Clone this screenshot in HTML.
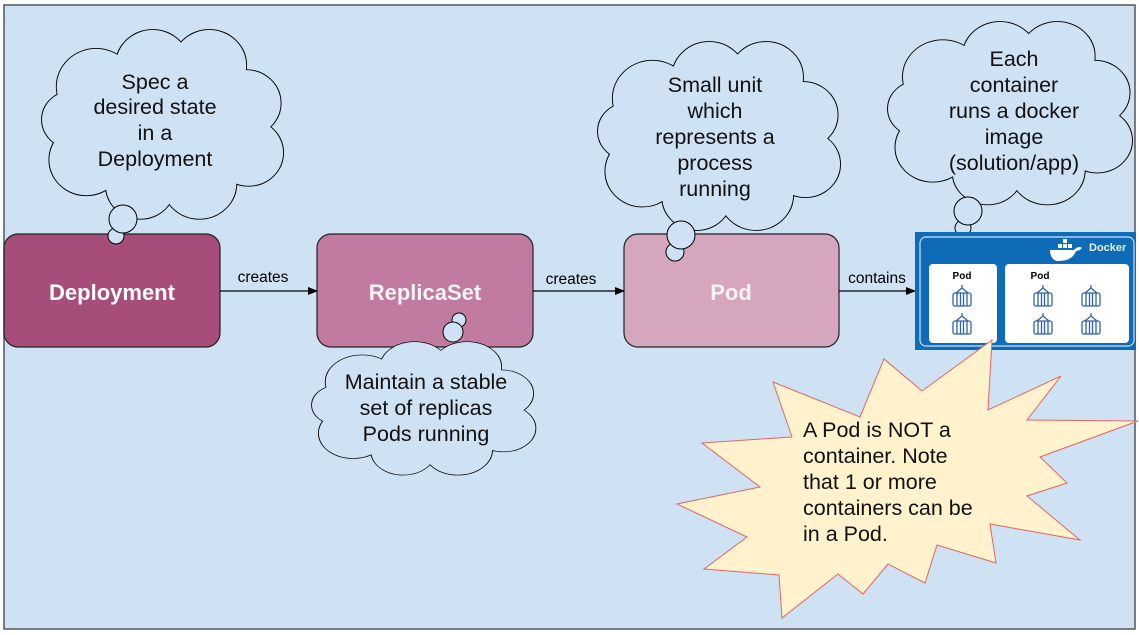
<!DOCTYPE html>
<html><head><meta charset="utf-8"><style>
html,body{margin:0;padding:0;background:#fff;}
svg{display:block;font-family:"Liberation Sans",Arial,sans-serif;}
</style></head><body>
<svg width="1139" height="635" viewBox="0 0 1139 635" xmlns="http://www.w3.org/2000/svg">
<defs>
<g id="cs">
<ellipse cx="50" cy="40" rx="38" ry="28"/>
<circle cx="22" cy="24" r="16"/><circle cx="45" cy="15" r="15"/><circle cx="68" cy="15" r="15"/>
<circle cx="83" cy="31" r="14"/><circle cx="84" cy="52" r="14"/><circle cx="64" cy="65" r="15"/>
<circle cx="40" cy="66" r="14"/><circle cx="18" cy="55" r="15"/><circle cx="12" cy="38" r="12"/>
</g>
<g id="cont" fill="none" stroke="#2f63a8" stroke-width="1.3">
<rect x="-9" y="-6" width="18" height="13" rx="2"/>
<line x1="-5" y1="-6" x2="-5" y2="7"/><line x1="-1.5" y1="-6" x2="-1.5" y2="7"/><line x1="1.5" y1="-6" x2="1.5" y2="7"/><line x1="5" y1="-6" x2="5" y2="7"/>
<path d="M-6 -6 L0 -11 L6 -6 M0 -11 V-14"/>
</g>
<marker id="ar" markerWidth="10" markerHeight="8" refX="9" refY="4" orient="auto" markerUnits="userSpaceOnUse"><path d="M0 0 L10 4 L0 8 Z" fill="#000"/></marker>
</defs>
<rect x="4" y="5" width="1131" height="624" fill="#cfe2f3" stroke="#555" stroke-width="1.5"/>

<g>
<use href="#cs" transform="translate(42,30) scale(2.46,2.36)" fill="none" stroke="#000" style="stroke-width:0.75"/>
<use href="#cs" transform="translate(42,30) scale(2.46,2.36)" fill="#cfe2f3"/>
<use href="#cs" transform="translate(598,42) scale(2.47,2.35)" fill="none" stroke="#000" style="stroke-width:0.75"/>
<use href="#cs" transform="translate(598,42) scale(2.47,2.35)" fill="#cfe2f3"/>
<use href="#cs" transform="translate(888,22) scale(2.49,2.28)" fill="none" stroke="#000" style="stroke-width:0.75"/>
<use href="#cs" transform="translate(888,22) scale(2.49,2.28)" fill="#cfe2f3"/>
</g>

<rect x="4" y="234" width="216" height="113" rx="14" fill="#a64d79" stroke="#222" stroke-width="1.2"/>
<rect x="317" y="234" width="216" height="113" rx="14" fill="#c27ba0" stroke="#222" stroke-width="1.2"/>
<rect x="624" y="234" width="215" height="113" rx="14" fill="#d5a6bd" stroke="#222" stroke-width="1.2"/>
<text x="112" y="300" text-anchor="middle" font-size="22" font-weight="bold" fill="#fff">Deployment</text>
<text x="425" y="300" text-anchor="middle" font-size="22" font-weight="bold" fill="#f3f3f3">ReplicaSet</text>
<text x="731" y="300" text-anchor="middle" font-size="22" font-weight="bold" fill="#f3f3f3">Pod</text>

<circle cx="116" cy="236" r="8" fill="#cfe2f3" stroke="#000"/>
<circle cx="123" cy="219" r="14" fill="#cfe2f3" stroke="#000"/>
<circle cx="675" cy="252" r="9" fill="#cfe2f3" stroke="#000"/>
<circle cx="681" cy="235" r="14" fill="#cfe2f3" stroke="#000"/>
<circle cx="963" cy="228" r="8" fill="#cfe2f3" stroke="#000"/>
<circle cx="968" cy="211" r="14" fill="#cfe2f3" stroke="#000"/>
<circle cx="459" cy="320" r="7" fill="#cfe2f3" stroke="#000"/>
<circle cx="453" cy="332" r="10" fill="#cfe2f3" stroke="#000"/>

<use href="#cs" transform="translate(312,342) scale(2.28,1.66)" fill="none" stroke="#000" style="stroke-width:0.75"/>
<use href="#cs" transform="translate(312,342) scale(2.28,1.66)" fill="#cfe2f3"/>

<line x1="220" y1="291" x2="317" y2="291" stroke="#000" stroke-width="1.2" marker-end="url(#ar)"/>
<line x1="533" y1="291" x2="624" y2="291" stroke="#000" stroke-width="1.2" marker-end="url(#ar)"/>
<line x1="839" y1="291" x2="915" y2="291" stroke="#000" stroke-width="1.2" marker-end="url(#ar)"/>
<text x="263" y="282" text-anchor="middle" font-size="15.5">creates</text>
<text x="571" y="284" text-anchor="middle" font-size="15.5">creates</text>
<text x="877" y="283" text-anchor="middle" font-size="15.5">contains</text>

<rect x="915" y="232" width="221" height="118" fill="#0e6bb8"/>
<rect x="920" y="237" width="214" height="109" rx="6" fill="none" stroke="#cfe2f3" stroke-width="1.2"/>
<rect x="929" y="264" width="68" height="79" rx="4" fill="#fff"/>
<rect x="1005" y="264" width="124" height="79" rx="4" fill="#fff"/>
<text x="962" y="279" text-anchor="middle" font-size="10" font-weight="bold">Pod</text>
<text x="1040" y="279" text-anchor="middle" font-size="10" font-weight="bold">Pod</text>
<use href="#cont" transform="translate(962,299)"/><use href="#cont" transform="translate(962,327)"/>
<use href="#cont" transform="translate(1043,299)"/><use href="#cont" transform="translate(1043,327)"/>
<use href="#cont" transform="translate(1091,299)"/><use href="#cont" transform="translate(1091,327)"/>
<path d="M1050 250 h24 c3 -3 6 -4 8 -2 c-2 2 -4 3 -6 3 c-3 8 -10 10 -18 10 c-5 0 -8 -5 -8 -11z" fill="#fff"/>
<rect x="1058" y="244" width="4" height="4" fill="#fff"/><rect x="1063" y="244" width="4" height="4" fill="#fff"/><rect x="1063" y="239" width="4" height="4" fill="#fff"/><rect x="1068" y="244" width="4" height="4" fill="#fff"/>
<text x="1089" y="251" font-size="11" font-weight="bold" fill="#e8f0f8">Docker</text>

<g font-size="21.5" text-anchor="middle" fill="#111">
<text x="155" y="89">Spec a</text><text x="155" y="114">desired state</text><text x="155" y="140">in a</text><text x="155" y="166">Deployment</text>
<text x="715" y="92">Small unit</text><text x="715" y="118">which</text><text x="715" y="144">represents a</text><text x="715" y="170">process</text><text x="715" y="196">running</text>
<text x="1014" y="66">Each</text><text x="1014" y="92">container</text><text x="1014" y="118">runs a docker</text><text x="1014" y="144">image</text><text x="1014" y="170">(solution/app)</text>
<text x="426" y="389">Maintain a stable</text><text x="426" y="415">set of replicas</text><text x="426" y="441">Pods running</text>
</g>

<polygon points="773,382 792,437 702,443 760,487 677,504 747,537 704,569 779,575 782,618 838,574 863,594 888,564 925,583 937,545 996,563 990,524 1080,540 1027,496 1067,483 1040,457 1138,421 1027,420 1061,376 988,410 992,340 922,391 884,359 860,417" fill="#fff2cc" stroke="#e06666" stroke-width="1"/>
<g font-size="21.5" fill="#111">
<text x="803" y="437">A Pod is NOT a</text><text x="803" y="463">container. Note</text><text x="803" y="489">that 1 or more</text><text x="803" y="515">containers can be</text><text x="803" y="541">in a Pod.</text>
</g>
</svg>
</body></html>
